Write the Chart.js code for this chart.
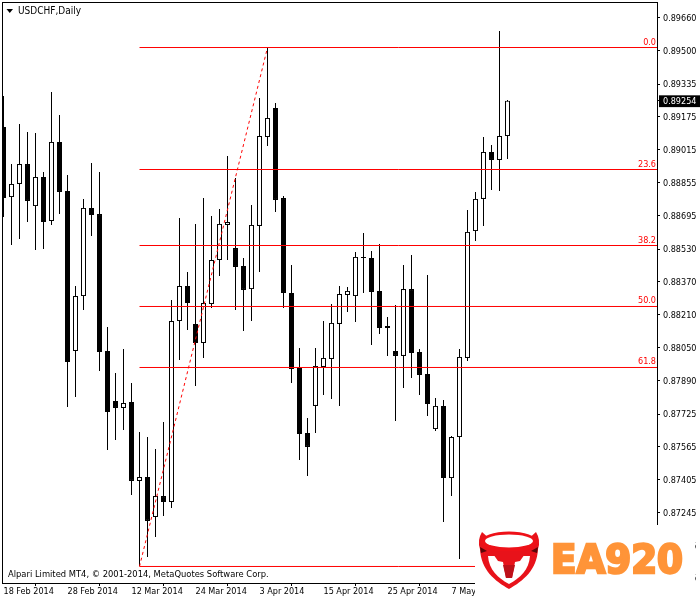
<!DOCTYPE html>
<html>
<head>
<meta charset="utf-8">
<title>USDCHF,Daily</title>
<script src="https://cdn.jsdelivr.net/npm/chart.js@4"></script>
<style>
	html, body { margin: 0; padding: 0; background: #fff; }
	canvas { display: block; }
</style>
</head>
<body>
<canvas id="chart" width="700" height="600"></canvas>
<script>
var opens = [
	0.89126, 0.88784, 0.88848, 0.88945, 0.88740, 0.88882, 0.88667, 0.89053,
	0.88814, 0.88033, 0.88301, 0.88731, 0.88701, 0.88033, 0.87789, 0.87755,
	0.87784, 0.87399, 0.87418, 0.87223, 0.87325, 0.87296, 0.88179, 0.88350,
	0.88165, 0.88072, 0.88262, 0.88477, 0.88648, 0.88535, 0.88448, 0.88335,
	0.88643, 0.89077, 0.89219, 0.88779, 0.88316, 0.87950, 0.87633, 0.87765,
	0.87955, 0.87994, 0.88165, 0.88306, 0.88301, 0.88487, 0.88487, 0.88326,
	0.88155, 0.88033, 0.88009, 0.88335, 0.88028, 0.87921, 0.87652, 0.87765,
	0.87413, 0.87613, 0.87999, 0.88618, 0.88775, 0.89004, 0.88965, 0.89082
];
var closes = [
	0.88779, 0.88848, 0.88945, 0.88765, 0.88882, 0.88662, 0.89053, 0.88809,
	0.87979, 0.88301, 0.88731, 0.88696, 0.88028, 0.87735, 0.87755, 0.87779,
	0.87399, 0.87418, 0.87204, 0.87325, 0.87296, 0.88179, 0.88350, 0.88267,
	0.88072, 0.88267, 0.88477, 0.88653, 0.88662, 0.88443, 0.88331, 0.88648,
	0.89082, 0.89170, 0.88770, 0.88316, 0.87945, 0.87628, 0.87565, 0.87960,
	0.87999, 0.88170, 0.88311, 0.88326, 0.88492, 0.88492, 0.88321, 0.88145,
	0.88145, 0.88009, 0.88335, 0.88023, 0.87916, 0.87774, 0.87765, 0.87413,
	0.87613, 0.88004, 0.88614, 0.88775, 0.89004, 0.88965, 0.89082, 0.89254
];
var highs = [
	0.89277, 0.88945, 0.89140, 0.89101, 0.89097, 0.88906, 0.89297, 0.89184,
	0.88892, 0.88350, 0.88775, 0.88950, 0.88906, 0.88150, 0.87926, 0.88043,
	0.87877, 0.87638, 0.87613, 0.87555, 0.87687, 0.88282, 0.88682, 0.88418,
	0.88653, 0.88779, 0.88692, 0.88726, 0.88984, 0.88877, 0.88487, 0.88745,
	0.89267, 0.89511, 0.89243, 0.88789, 0.88453, 0.88048, 0.87706, 0.88048,
	0.88179, 0.88262, 0.88350, 0.88345, 0.88516, 0.88609, 0.88521, 0.88555,
	0.88199, 0.88257, 0.88453, 0.88501, 0.88043, 0.88404, 0.87804, 0.87794,
	0.87618, 0.88043, 0.88721, 0.88809, 0.89077, 0.89038, 0.89594, 0.89258
];
var lows = [
	0.88687, 0.88550, 0.88579, 0.88662, 0.88526, 0.88531, 0.88648, 0.88701,
	0.87760, 0.87808, 0.88233, 0.88594, 0.87935, 0.87550, 0.87599, 0.87647,
	0.87330, 0.86984, 0.87028, 0.87125, 0.87228, 0.87267, 0.87989, 0.88135,
	0.87862, 0.87999, 0.88243, 0.88399, 0.88477, 0.88233, 0.88131, 0.88179,
	0.88418, 0.89033, 0.88711, 0.88243, 0.87877, 0.87501, 0.87423, 0.87633,
	0.87818, 0.87799, 0.87765, 0.88223, 0.88174, 0.88316, 0.88062, 0.88116,
	0.88009, 0.87691, 0.87852, 0.87901, 0.87818, 0.87716, 0.87643, 0.87199,
	0.87325, 0.87018, 0.87984, 0.88570, 0.88643, 0.88818, 0.88814, 0.88970
];

var dateLabels = [
	"18 Feb 2014", "28 Feb 2014", "12 Mar 2014", "24 Mar 2014",
	"3 Apr 2014", "15 Apr 2014", "25 Apr 2014", "7 May 2014"
];
var barsPerDateLabel = 8;

var priceTicks = [
	0.89660, 0.89500, 0.89335, 0.89175, 0.89015, 0.88855, 0.88695, 0.88530,
	0.88370, 0.88210, 0.88050, 0.87890, 0.87725, 0.87565, 0.87405, 0.87245,
	0.87085, 0.86925
];
var lastPrice = 0.89254;

var fibNames = ["0.0", "23.6", "38.2", "50.0", "61.8", "100.0"];
var fibPrices = [0.895136, 0.889184, 0.885476, 0.882500, 0.879524, 0.869815];
var fibStartBar = 17;
var fibEndBar = 33;

var FONT = '"DejaVu Sans Condensed", "Liberation Sans", sans-serif';
var RED = "#ff0000";

var xMin = -0.0625;
var xMax = 81.6875;

var fibDatasets = fibPrices.map(function (price) {
	return {
		type: "line",
		data: [{ x: fibStartBar, y: price }, { x: xMax, y: price }],
		borderColor: RED,
		borderWidth: 1,
		pointRadius: 0,
		tension: 0,
		order: 0
	};
});

var trendDataset = {
	type: "line",
	data: [
		{ x: fibStartBar, y: fibPrices[5] },
		{ x: fibEndBar, y: fibPrices[0] }
	],
	borderColor: RED,
	borderWidth: 1,
	borderDash: [3, 3],
	pointRadius: 0,
	tension: 0,
	order: 0
};

var bodyDataset = {
	type: "bar",
	data: opens.map(function (open, i) {
		return { x: i, y: [open, closes[i]] };
	}),
	backgroundColor: opens.map(function (open, i) {
		return closes[i] < open ? "#000000" : "#ffffff";
	}),
	borderColor: "#000000",
	borderWidth: 1,
	borderSkipped: false,
	inflateAmount: 0,
	barThickness: 5,
	grouped: false,
	order: 1
};

var wickDataset = {
	type: "bar",
	data: highs.map(function (high, i) {
		return { x: i, y: [lows[i], high] };
	}),
	backgroundColor: "#000000",
	borderWidth: 0,
	inflateAmount: 0,
	barThickness: 1,
	grouped: false,
	order: 2
};

// the scales ask for room for their first and last labels, the terminal does not
function dropScalePadding(scale) {
	scale.paddingTop = 0;
	scale.paddingBottom = 0;
	scale.paddingLeft = 0;
	scale.paddingRight = 0;
}

// the bull badge sits on a white patch over the bottom right corner
function drawLogo(ctx) {
	ctx.fillStyle = "#ffffff";
	ctx.fillRect(475, 525, 220, 75);

	ctx.fillStyle = "#e8121a";
	ctx.beginPath();
	ctx.moveTo(482, 532);
	ctx.quadraticCurveTo(477, 540, 480, 549);
	ctx.bezierCurveTo(481, 570, 495, 581, 509, 589);
	ctx.bezierCurveTo(523, 581, 537, 570, 538, 549);
	ctx.quadraticCurveTo(541, 540, 536, 532);
	ctx.quadraticCurveTo(509, 560, 482, 532);
	ctx.fill();

	ctx.fillStyle = "#ffffff";
	ctx.beginPath();
	ctx.moveTo(488, 556);
	ctx.bezierCurveTo(489, 570, 498, 578, 509, 584);
	ctx.bezierCurveTo(520, 578, 529, 570, 530, 556);
	ctx.closePath();
	ctx.fill();

	ctx.fillStyle = "#ee1118";
	ctx.beginPath();
	ctx.ellipse(509, 542, 28, 10.5, 0, 0, Math.PI * 2);
	ctx.fill();
	ctx.fillStyle = "#ffffff";
	ctx.beginPath();
	ctx.ellipse(509, 541, 24, 6.5, 0, 0, Math.PI * 2);
	ctx.fill();

	ctx.fillStyle = "#e8121a";
	ctx.beginPath();
	ctx.moveTo(491, 551);
	ctx.lineTo(527, 551);
	ctx.lineTo(520, 561);
	ctx.lineTo(515, 562);
	ctx.lineTo(512, 578);
	ctx.lineTo(506, 578);
	ctx.lineTo(503, 562);
	ctx.lineTo(498, 561);
	ctx.closePath();
	ctx.fill();

	ctx.fillStyle = "#bd1019";
	ctx.beginPath();
	ctx.moveTo(503, 565);
	ctx.lineTo(515, 565);
	ctx.lineTo(512, 578);
	ctx.lineTo(506, 578);
	ctx.closePath();
	ctx.fill();

	ctx.fillStyle = "#5c0508";
	ctx.beginPath();
	ctx.moveTo(480, 547);
	ctx.lineTo(487, 551);
	ctx.lineTo(481, 553);
	ctx.closePath();
	ctx.moveTo(538, 547);
	ctx.lineTo(531, 551);
	ctx.lineTo(537, 553);
	ctx.closePath();
	ctx.fill();

	ctx.fillStyle = "#ff9438";
	ctx.strokeStyle = "#ff9438";
	ctx.lineWidth = 2.5;
	ctx.lineJoin = "miter";
	ctx.font = 'bold 39px "DejaVu Sans"';
	ctx.textAlign = "left";
	ctx.textBaseline = "alphabetic";
	ctx.fillText("EA920", 551, 573, 132);
	ctx.strokeText("EA920", 551, 573, 132);
}

var terminalDecor = {
	id: "terminalDecor",
	afterDraw: function (chart) {
		var ctx = chart.ctx;
		var y = chart.scales.y;

		ctx.save();
		ctx.strokeStyle = "#000000";
		ctx.lineWidth = 1;
		ctx.strokeRect(2.5, 2.5, 655, 581);

		ctx.fillStyle = "#000000";
		ctx.beginPath();
		ctx.moveTo(6.5, 9);
		ctx.lineTo(13, 9);
		ctx.lineTo(9.75, 13);
		ctx.closePath();
		ctx.fill();

		ctx.textBaseline = "middle";
		ctx.textAlign = "left";
		ctx.font = "10px " + FONT;
		ctx.fillText("USDCHF,Daily", 18, 11);
		ctx.font = "9.3px " + FONT;
		ctx.fillText("Alpari Limited MT4, \u00a9 2001-2014, MetaQuotes Software Corp.", 8, 575);

		ctx.font = "9px " + FONT;
		ctx.fillStyle = RED;
		ctx.textAlign = "right";
		ctx.textBaseline = "alphabetic";
		fibNames.forEach(function (name, i) {
			ctx.fillText(name, 656, y.getPixelForValue(fibPrices[i]) - 3);
		});

		drawLogo(ctx);
		ctx.restore();
	}
};

new Chart(document.getElementById("chart"), {
	type: "bar",
	data: {
		datasets: fibDatasets.concat([trendDataset, bodyDataset, wickDataset])
	},
	options: {
		responsive: false,
		animation: false,
		events: [],
		layout: { padding: { left: 3, top: 3, right: 0, bottom: 0 } },
		plugins: {
			legend: { display: false },
			tooltip: { enabled: false }
		},
		scales: {
			x: {
				type: "linear",
				offset: false,
				min: xMin,
				max: xMax,
				afterBuildTicks: function (scale) {
					scale.ticks = dateLabels.map(function (_, i) {
						return { value: i * barsPerDateLabel };
					});
				},
				afterFit: function (scale) {
					scale.height = 17;
					dropScalePadding(scale);
				},
				border: { display: false },
				grid: {
					drawOnChartArea: false,
					tickLength: 3,
					tickColor: "#000000"
				},
				ticks: {
					align: "start",
					autoSkip: false,
					maxRotation: 0,
					padding: 0,
					color: "#000000",
					font: { family: FONT, size: 9 },
					callback: function (value) {
						return dateLabels[value / barsPerDateLabel];
					}
				}
			},
			y: {
				position: "right",
				min: 0.869009,
				max: 0.897308,
				afterBuildTicks: function (scale) {
					scale.ticks = priceTicks.concat([lastPrice]).map(function (value) {
						return { value: value };
					});
				},
				afterFit: function (scale) {
					scale.width = 43;
					dropScalePadding(scale);
				},
				border: { display: false },
				grid: {
					drawOnChartArea: false,
					tickLength: 3,
					tickColor: "#000000"
				},
				ticks: {
					autoSkip: false,
					padding: 3,
					labelOffset: 1,
					color: function (context) {
						return context.tick.value === lastPrice ? "#ffffff" : "#000000";
					},
					showLabelBackdrop: function (context) {
						return context.tick.value === lastPrice;
					},
					backdropColor: "#000000",
					backdropPadding: { left: 4, right: 8, top: 1, bottom: 0 },
					font: { family: FONT, size: 9 },
					callback: function (value) {
						return value.toFixed(5);
					}
				}
			}
		}
	},
	plugins: [terminalDecor]
});
</script>
</body>
</html>
